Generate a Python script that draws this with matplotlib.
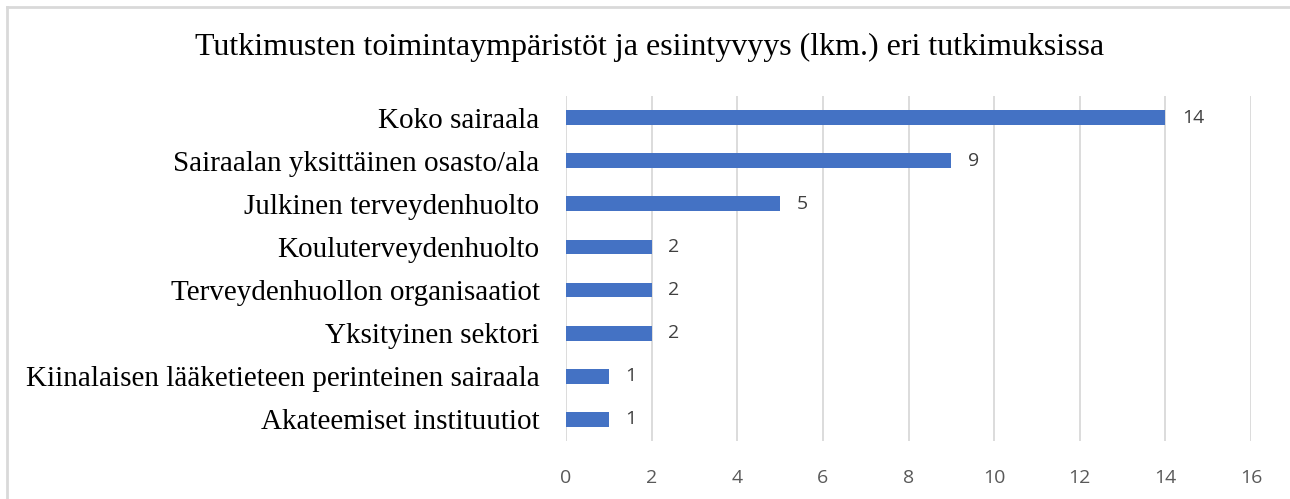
import matplotlib.pyplot as plt
from matplotlib.lines import Line2D

categories = ["Koko sairaala", "Sairaalan yksittäinen osasto/ala", "Julkinen terveydenhuolto",
              "Kouluterveydenhuolto", "Terveydenhuollon organisaatiot", "Yksityinen sektori",
              "Kiinalaisen lääketieteen perinteinen sairaala", "Akateemiset instituutiot"]
counts = [14, 9, 5, 2, 2, 2, 1, 1]
xticks = [0, 2, 4, 6, 8, 10, 12, 14, 16]

W, H = 1290, 499
fig = plt.figure(figsize=(W / 100, H / 100), dpi=100)
ax = fig.add_axes([566 / W, 1 - 441 / H, (1251 - 566) / W, (441 - 96) / H])

ypos = list(range(len(categories)))
ax.barh(ypos, counts, height=0.34, color="#4472C4", zorder=3)
ax.set_ylim(len(categories) - 0.5, -0.5)
ax.set_xlim(0, 16)
ax.set_xticks(xticks)
ax.set_xticklabels([str(t) for t in xticks], fontsize=14, color="#595959", family="Open Sans")
ax.set_yticks(ypos)
ax.set_yticklabels(categories, fontsize=21, family="Liberation Serif", color="black")
ax.tick_params(axis="both", length=0)
ax.tick_params(axis="x", pad=20)
ax.tick_params(axis="y", pad=19)
ax.grid(axis="x", color="#D9D9D9", linewidth=1.3, zorder=0)
for s in ax.spines.values():
    s.set_visible(False)

for y, v in zip(ypos, counts):
    ax.annotate(str(v), (v, y), xytext=(12, 0), textcoords="offset points",
                va="center", ha="left", fontsize=14, color="#404040", family="Open Sans")

fig.text(650 / W, 1 - 47 / H, "Tutkimusten toimintaympäristöt ja esiintyvyys (lkm.) eri tutkimuksissa",
         ha="center", va="center", fontsize=23, family="Liberation Serif")

# chart frame (only top/left edges are inside the picture)
fig.add_artist(Line2D([6.5 / W, 1], [1 - 6.5 / H, 1 - 6.5 / H], transform=fig.transFigure,
                      color="#D9D9D9", linewidth=2))
fig.add_artist(Line2D([6.5 / W, 6.5 / W], [0, 1 - 6.5 / H], transform=fig.transFigure,
                      color="#D9D9D9", linewidth=2))

fig.savefig("out.png", dpi=100)
